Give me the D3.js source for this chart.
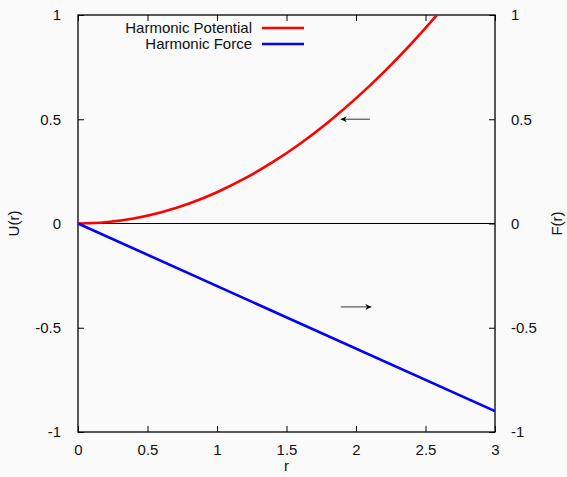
<!DOCTYPE html>
<html>
<head>
<meta charset="utf-8">
<script src="https://cdn.jsdelivr.net/npm/d3@7"></script>
<style>
  body { margin: 0; background: #fafafa; }
  text { font-family: "Liberation Sans", Arial, Helvetica, sans-serif; font-size: 15px; fill: #111; }
</style>
</head>
<body>
<div id="chart"></div>
<script>
var w = 567, h = 477;
var plotL = 78, plotR = 495, plotT = 15, plotB = 432;

var rVals = [0, 0.2, 0.4, 0.6, 0.8, 1.0, 1.2, 1.4, 1.6, 1.8, 2.0, 2.2, 2.4, 2.6, 2.8];
var potVals = [0, 0.006, 0.024, 0.054, 0.096, 0.15, 0.216, 0.294, 0.384, 0.486, 0.6, 0.726, 0.864, 1.014, 1.176];
var forceR = [0, 3];
var forceVals = [0, -0.9];
var xTicks = [0, 0.5, 1, 1.5, 2, 2.5, 3];
var yTicks = [-1, -0.5, 0, 0.5, 1];
var seriesNames = ["Harmonic Potential", "Harmonic Force"];
var seriesColors = ["#ff0000", "#0000ff"];
// arrows [x1, x2, y]
var arrowPot = [2.1, 1.89, 0.5];
var arrowForce = [1.89, 2.11, -0.4];

var fmt = function (d) { return String(d); };

var svg = d3.select("#chart").append("svg")
    .attr("width", w)
    .attr("height", h);

svg.append("rect").attr("width", w).attr("height", h).attr("fill", "#fafafa");

var x = d3.scaleLinear().domain([0, 3]).range([plotL, plotR]);
var y = d3.scaleLinear().domain([-1, 1]).range([plotB, plotT]);

var defs = svg.append("defs");
defs.append("clipPath").attr("id", "clip")
  .append("rect")
    .attr("x", plotL).attr("y", plotT)
    .attr("width", plotR - plotL).attr("height", plotB - plotT);

defs.append("marker")
    .attr("id", "head")
    .attr("viewBox", "0 0 10 10")
    .attr("refX", 10).attr("refY", 5)
    .attr("markerWidth", 9).attr("markerHeight", 6)
    .attr("markerUnits", "userSpaceOnUse")
    .attr("orient", "auto")
  .append("path")
    .attr("d", "M0,0L10,5L0,10L3,5Z")
    .attr("fill", "#000");

// zero line
svg.append("line")
    .attr("x1", x(0)).attr("x2", x(3))
    .attr("y1", y(0)).attr("y2", y(0))
    .attr("stroke", "#000").attr("stroke-width", 1);

// axes, gnuplot style ticks inward
var tick = 6;
function drawAxis(axis, tx, ty) {
  var g = svg.append("g").attr("transform", "translate(" + tx + "," + ty + ")").call(axis);
  g.select(".domain").remove();
  g.selectAll(".tick line").attr("stroke", "#000");
  return g;
}
drawAxis(d3.axisBottom(x).tickValues(xTicks).tickSizeInner(-tick).tickSizeOuter(0).tickPadding(12)
    .tickFormat(fmt), 0, plotB);
drawAxis(d3.axisTop(x).tickValues(xTicks).tickSizeInner(-tick).tickSizeOuter(0).tickFormat(""), 0, plotT);
drawAxis(d3.axisLeft(y).tickValues(yTicks).tickSizeInner(-tick).tickSizeOuter(0).tickPadding(17)
    .tickFormat(fmt), plotL, 0);
drawAxis(d3.axisRight(y).tickValues(yTicks).tickSizeInner(-tick).tickSizeOuter(0).tickPadding(16)
    .tickFormat(fmt), plotR, 0);
svg.selectAll(".tick text").style("font-size", "15px").attr("fill", "#111")
    .style("font-family", '"Liberation Sans", Arial, sans-serif');

// frame
svg.append("rect")
    .attr("x", plotL).attr("y", plotT)
    .attr("width", plotR - plotL).attr("height", plotB - plotT)
    .attr("fill", "none").attr("stroke", "#000").attr("stroke-width", 1.3);

// curves
var line = d3.line().x(function (d) { return x(d[0]); }).y(function (d) { return y(d[1]); })
    .curve(d3.curveMonotoneX);

svg.append("path")
    .datum(rVals.map(function (r, i) { return [r, potVals[i]]; }))
    .attr("clip-path", "url(#clip)")
    .attr("d", line)
    .attr("fill", "none").attr("stroke", seriesColors[0]).attr("stroke-width", 2.6);

svg.append("path")
    .datum(forceR.map(function (r, i) { return [r, forceVals[i]]; }))
    .attr("clip-path", "url(#clip)")
    .attr("d", d3.line().x(function (d) { return x(d[0]); }).y(function (d) { return y(d[1]); }))
    .attr("fill", "none").attr("stroke", seriesColors[1]).attr("stroke-width", 2.6);

// arrows
[arrowPot, arrowForce].forEach(function (a) {
  svg.append("line")
      .attr("x1", x(a[0])).attr("x2", x(a[1]))
      .attr("y1", y(a[2])).attr("y2", y(a[2]))
      .attr("stroke", "#555").attr("stroke-width", 1.2)
      .attr("marker-end", "url(#head)");
});

// legend
seriesNames.forEach(function (name, i) {
  var ly = 28 + i * 16;
  svg.append("text")
      .attr("x", 252).attr("y", ly).attr("dy", "0.35em")
      .attr("text-anchor", "end")
      .text(name);
  svg.append("line")
      .attr("x1", 262).attr("x2", 304)
      .attr("y1", ly).attr("y2", ly)
      .attr("stroke", seriesColors[i]).attr("stroke-width", 2.6);
});

// axis titles
svg.append("text")
    .attr("x", (plotL + plotR) / 2).attr("y", 471)
    .attr("text-anchor", "middle").text("r");
svg.append("text")
    .attr("transform", "translate(19," + y(0) + ") rotate(-90)")
    .attr("text-anchor", "middle").text("U(r)");
svg.append("text")
    .attr("transform", "translate(562," + y(0) + ") rotate(-90)")
    .attr("text-anchor", "middle").text("F(r)");
</script>
</body>
</html>
